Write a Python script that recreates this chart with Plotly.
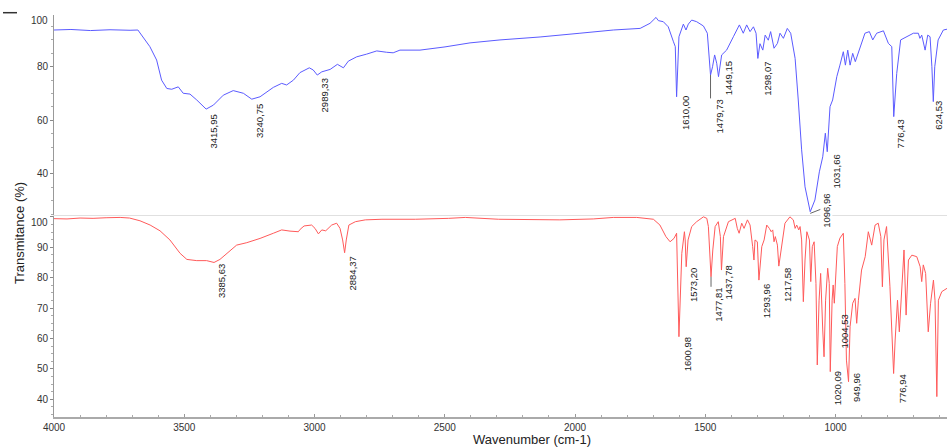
import plotly.graph_objects as go

# ---------------- data ----------------
blue_wn = [4000, 3935, 3860, 3785, 3708, 3678, 3632, 3606, 3587, 3567, 3548, 3523, 3504, 3478, 3452,
           3415.95, 3388, 3350, 3312, 3273, 3240.75, 3209, 3158, 3126, 3107, 3081, 3056, 3020, 3005,
           2989.33, 2972, 2940, 2912, 2889, 2870, 2838, 2800, 2761, 2723, 2698, 2672, 2595, 2499, 2403,
           2288, 2134, 1981, 1853, 1750, 1712, 1689, 1680, 1661, 1642, 1622, 1615, 1610, 1605, 1601,
           1584, 1574, 1565, 1552, 1533, 1507, 1492, 1485, 1479.73, 1472, 1464, 1456, 1449.15, 1437,
           1418, 1392, 1369, 1354, 1341, 1328, 1315, 1305, 1298.07, 1290, 1279, 1270, 1258, 1249, 1236,
           1223, 1213, 1200, 1185, 1172, 1155, 1143, 1130, 1117, 1096.96, 1079, 1062, 1049, 1039,
           1031.66, 1021, 1011, 995, 983, 970, 962, 953, 944, 934, 924, 906, 887, 870, 857, 842, 816,
           797, 784, 776.43, 765, 750, 727, 701, 682, 676, 669, 656, 646, 637, 630, 624.53, 619, 606,
           586, 572]
blue_t = [93.7, 93.9, 93.5, 93.8, 93.6, 93.7, 87.5, 82.5, 75.0, 71.9, 71.6, 72.5, 70.1, 69.8, 67.6,
          64.2, 65.7, 69.4, 71.1, 70.1, 67.9, 68.8, 72.3, 73.8, 73.2, 75.0, 77.8, 79.6, 78.8,
          76.9, 78.1, 79.0, 80.9, 79.6, 82.1, 83.7, 84.7, 85.9, 85.4, 85.2, 86.2, 86.2, 87.4, 88.9,
          90.0, 91.1, 92.5, 93.7, 94.3, 96.2, 98.4, 97.2, 96.8, 94.9, 89.3, 87.5, 68.8, 80.0, 91.2,
          95.9, 93.7, 95.9, 97.4, 96.8, 95.2, 92.5, 85.0, 76.9, 80.0, 84.4, 81.3, 76.3, 84.4,
          86.2, 91.2, 95.6, 92.5, 95.6, 93.1, 94.9, 92.5, 83.1, 88.6, 86.2, 91.8, 89.9, 93.1, 86.9,
          88.7, 92.5, 90.6, 94.3, 92.5, 83.1, 67.6, 49.0, 35.2, 25.9, 30.3, 40.8, 46.4, 55.2,
          48.3, 65.1, 67.6, 76.3, 80.6, 85.6, 80.6, 86.2, 80.6, 85.0, 81.9, 87.5, 92.5, 93.1, 90.0, 92.5, 93.4,
          88.7, 87.5, 61.4, 77.5, 90.0, 91.2, 92.5, 92.5, 90.6, 91.8, 86.2, 91.8, 91.2, 80.0, 67.0, 80.0, 90.0,
          93.7, 94.0]

red_wn = [4000, 3950, 3900, 3850, 3800, 3746, 3710, 3695, 3670, 3631, 3593, 3555, 3516, 3490, 3452,
          3414, 3385.63, 3363, 3331, 3299, 3260, 3209, 3158, 3126, 3094, 3062, 3055, 3040, 3011, 2998,
          2985, 2972, 2957, 2947, 2934, 2915, 2902, 2892, 2884.37, 2878, 2868, 2843, 2805, 2741, 2613,
          2485, 2421, 2357, 2293, 2058, 1981, 1930, 1853, 1763, 1699, 1674, 1651, 1635, 1620, 1610,
          1600.98, 1590, 1580, 1577, 1573.20, 1566, 1552, 1533, 1507, 1494, 1488, 1477.81, 1471, 1462,
          1450, 1442, 1437.78, 1430, 1411, 1385, 1377, 1370, 1360, 1351, 1338, 1328, 1318, 1313, 1309,
          1300, 1293.96, 1283, 1274, 1264, 1254, 1247, 1241, 1236, 1231, 1223, 1217.58, 1207, 1194,
          1175, 1162, 1155, 1149, 1141, 1136, 1130, 1123.5, 1117, 1110, 1100, 1095, 1089, 1082, 1075,
          1070, 1063, 1057, 1049, 1044, 1038, 1030, 1024, 1020.09, 1013, 1009, 1004.53, 993, 983, 970,
          964, 958, 949.96, 944, 934, 925, 918.6, 912, 900, 886, 874, 861, 848, 836, 826, 820, 814, 804,
          791, 783, 776.94, 771, 762, 755, 746, 737, 729, 720, 707, 688, 675, 669, 663, 654, 644, 635,
          624, 618, 611, 605, 592, 572]
red_t = [99.4, 99.3, 99.6, 99.5, 99.7, 99.8, 99.6, 99.3, 98.7, 97.3, 95.4, 92.4, 88.0, 86.0, 85.6,
         85.6, 85.0, 86.0, 88.5, 90.7, 91.5, 92.9, 94.6, 95.7, 95.3, 95.1, 95.9, 97.0, 97.3, 96.2,
         94.4, 95.7, 95.4, 96.2, 97.3, 97.9, 96.2, 92.4, 88.2, 92.4, 97.3, 98.4, 99.0, 99.2, 99.2,
         99.5, 99.8, 99.5, 99.2, 99.0, 99.2, 99.3, 99.8, 99.8, 99.2, 97.3, 93.5, 91.8, 92.9, 94.6,
         60.6, 88.0, 95.1, 92.4, 83.6, 92.4, 96.8, 98.4, 100.0, 99.5, 96.8, 80.3, 89.1, 96.8,
         98.4, 93.5, 82.5, 93.5, 98.4, 99.5, 96.2, 94.6, 97.9, 96.2, 99.0, 97.3, 90.2, 85.8, 92.4,
         91.8, 79.2, 90.2, 92.4, 97.3, 96.2, 95.1, 95.7, 91.8, 93.5, 90.7, 83.8, 90.7, 97.9,
         100.0, 99.0, 96.2, 97.3, 95.7, 96.8, 92.4, 72.1, 85.8, 95.1, 92.4, 78.7, 90.2, 91.8, 78.1,
         51.3, 72.6, 81.4, 62.8, 54.0, 72.6, 83.1, 78.1, 49.1, 72.6, 77.6, 71.6, 90.2, 93.0, 94.6,
         78.1, 52.9, 45.8, 63.9, 71.6, 73.2, 65.0, 72.6, 82.5, 86.9, 95.1, 90.7, 97.3, 97.9, 93.5, 77.0, 92.4, 96.8,
         77.0, 61.7, 48.5, 59.5, 72.6, 62.2, 77.0, 89.1, 67.7, 85.8, 87.4, 86.9, 83.6, 78.7, 84.2, 81.4, 62.2, 71.6,
         79.2, 72.6, 40.9, 72.6, 75.4, 76.5]

top_peaks = [3415.95, 3240.75, 2989.33, 1610.00, 1479.73, 1449.15, 1298.07, 1096.96, 1031.66, 776.43, 624.53]
bottom_peaks = [3385.63, 2884.37, 1600.98, 1573.20, 1477.81, 1437.78, 1293.96, 1217.58, 1020.09, 1004.53,
                949.96, 776.94]

x_tick_vals = [4000, 3500, 3000, 2500, 2000, 1500, 1000]
top_y_ticks = [40, 60, 80, 100]
bottom_y_ticks = [40, 50, 60, 70, 80, 90, 100]

# label placement (top of label in data units, horizontal offset in px)
top_label_y = [62.6, 66.4, 75.9, 69.45, 68.2, 82.5, 82.1, 32.9, 47.7, 60.75, 67.6]
top_label_dx = [7, 7, 7.4, 8.4, 8.7, 9.8, 8.9, 15.6, 9, 6.8, 5]
bottom_label_y = [84.7, 87.4, 60.6, 83.6, 77.0, 84.2, 78.1, 83.6, 49.6, 68.3, 49.05, 48.5]
bottom_label_dx = [7.7, 7.7, 8.6, 7.1, 8, 7.2, 7.8, 8.4, 6.9, 10, 8.2, 8.7]

# ---------------- figure ----------------
FONT = "Liberation Sans, Arial, sans-serif"
W, H = 947, 447
ML, MR, MT, MB = 54, 0, 15, 30
split = 202 / 402.0

fig = go.Figure()
fig.add_trace(go.Scatter(x=blue_wn, y=blue_t, mode="lines", xaxis="x2", yaxis="y2",
                         line=dict(color="#5b5bff", width=1), showlegend=False, hoverinfo="skip"))
fig.add_trace(go.Scatter(x=red_wn, y=red_t, mode="lines", xaxis="x", yaxis="y",
                         line=dict(color="#ff5a5a", width=1), showlegend=False, hoverinfo="skip"))

fmt = lambda v: f"{v:.2f}".replace(".", ",")
label_font = dict(family=FONT, size=9.5, color="#222")
annotations = []
for v, ly, dx in zip(top_peaks, top_label_y, top_label_dx):
    annotations.append(dict(x=v, y=ly, xref="x2", yref="y2", text=fmt(v), textangle=-90,
                            showarrow=False, xanchor="center", yanchor="top", xshift=dx,
                            font=label_font, borderpad=0,
                            bgcolor="white" if v == 1096.96 else None))
for v, ly, dx in zip(bottom_peaks, bottom_label_y, bottom_label_dx):
    annotations.append(dict(x=v, y=ly, xref="x", yref="y", text=fmt(v), textangle=-90,
                            showarrow=False, xanchor="center", yanchor="top", xshift=dx,
                            font=label_font, borderpad=0))

tick_font = dict(family=FONT, size=10, color="#333")
# "100" labels (drawn slightly below the top of each panel)
annotations.append(dict(x=0, y=97.2, xref="paper", yref="y2", text="100", showarrow=False,
                        xanchor="right", yanchor="middle", xshift=-4, font=tick_font))
annotations.append(dict(x=0, y=98.07, xref="paper", yref="y", text="100", showarrow=False,
                        xanchor="right", yanchor="middle", xshift=-4, font=tick_font))
# axis titles
annotations.append(dict(x=(19 - ML) / (W - ML), y=(417 - 233) / 402.0, xref="paper", yref="paper",
                        text="Transmitance (%)", textangle=-90, showarrow=False,
                        xanchor="center", yanchor="middle",
                        font=dict(family=FONT, size=13, color="#222")))
annotations.append(dict(x=(532 - ML) / (W - ML), y=(417 - 439) / 402.0, xref="paper", yref="paper",
                        text="Wavenumber (cm-1)", showarrow=False,
                        xanchor="center", yanchor="middle",
                        font=dict(family=FONT, size=13, color="#222")))

shapes = [
    # leader lines
    dict(type="line", xref="x2", yref="y2", x0=1479.73, x1=1479.73, y0=76.9, y1=68.2,
         line=dict(color="#666", width=1)),
    dict(type="line", xref="x2", yref="y2", x0=1096.96, x1=1055, y0=25.3, y1=26.9,
         line=dict(color="#666", width=1)),
    dict(type="line", xref="x", yref="y", x0=1477.81, x1=1477.81, y0=80.3, y1=77.0,
         line=dict(color="#666", width=1)),
    # small mark at top-left
    dict(type="line", xref="paper", yref="paper", x0=(3 - ML) / (W - ML), x1=(17 - ML) / (W - ML),
         y0=(417 - 12.7) / 402.0, y1=(417 - 12.7) / 402.0, line=dict(color="#333", width=1.5)),
]

x_range = [4000, 4000 - (W - ML) / 0.2605]

fig.update_layout(
    width=W, height=H,
    margin=dict(l=ML, r=MR, t=MT, b=MB, pad=0),
    paper_bgcolor="white", plot_bgcolor="white",
    showlegend=False,
    annotations=annotations,
    shapes=shapes,
    xaxis=dict(domain=[0, 1], anchor="y", range=x_range, tickvals=x_tick_vals,
               ticks="inside", ticklen=3, tickcolor="#999", showline=True, linecolor="#aaa",
               linewidth=1.5, showgrid=False, zeroline=False, tickfont=tick_font,
               minor=dict(dtick=100, tick0=0, ticks="inside", ticklen=2, tickcolor="#aaa")),
    xaxis2=dict(domain=[0, 1], anchor="y2", matches="x", range=x_range, showticklabels=False,
                ticks="", showline=True, linecolor="#e0e0e0", linewidth=1, showgrid=False,
                zeroline=False),
    yaxis=dict(domain=[0, split], anchor="x", range=[34.2, 100.6], tickvals=bottom_y_ticks,
               ticktext=["40", "50", "60", "70", "80", "90", ""],
               ticks="outside", ticklen=3, tickcolor="#888", showline=True, linecolor="#999",
               linewidth=1, showgrid=False, zeroline=False, tickfont=tick_font,
               minor=dict(dtick=2.5, tick0=0, ticks="outside", ticklen=2, tickcolor="#aaa")),
    yaxis2=dict(domain=[split, 1], anchor="x2", range=[24.7, 99.3], tickvals=top_y_ticks,
                ticktext=["40", "60", "80", ""],
                ticks="outside", ticklen=3, tickcolor="#888", showline=True, linecolor="#999",
                linewidth=1, showgrid=False, zeroline=False, tickfont=tick_font,
                minor=dict(dtick=5, tick0=0, ticks="outside", ticklen=2, tickcolor="#aaa")),
)

fig.write_html("out.html", config={"displayModeBar": False},
               post_script="document.body.style.margin='0';document.body.style.padding='0';")
